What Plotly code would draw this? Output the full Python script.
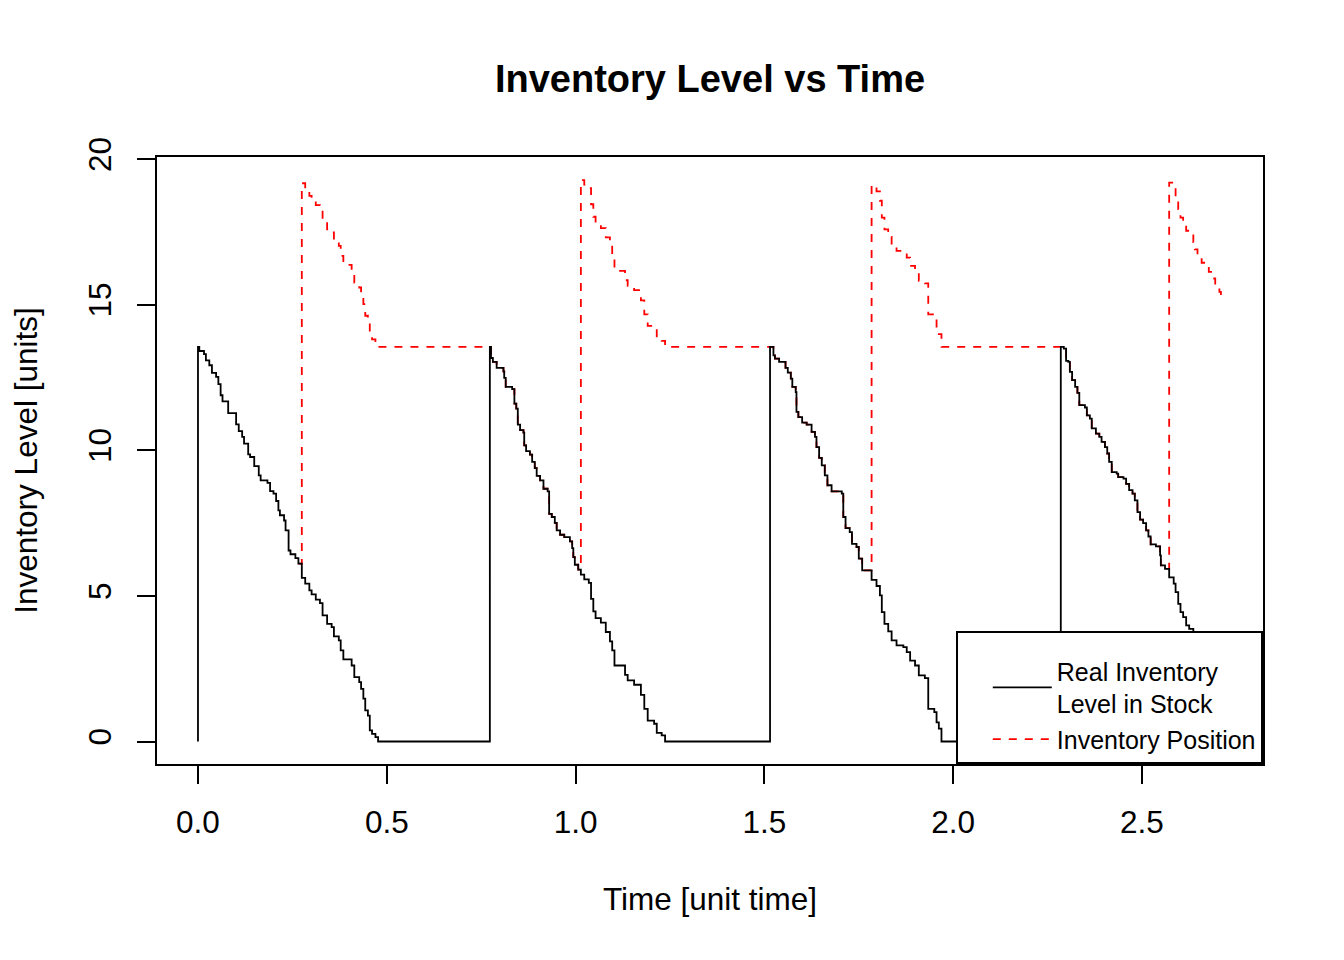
import plotly.graph_objects as go

# ---- data ----
Q = 13.55                      # order quantity (units)
order_times = [0.275, 1.014, 1.784, 2.572]
arrival_times = [0.773, 1.515, 2.285]
end_time = 2.712

c1_t = [0.0035, 0.016, 0.021, 0.030, 0.037, 0.048, 0.054, 0.060, 0.065, 0.080,
        0.101, 0.108, 0.117, 0.122, 0.133, 0.138, 0.149, 0.161, 0.166, 0.184,
        0.191, 0.200, 0.207, 0.213, 0.217, 0.228, 0.232, 0.240, 0.245, 0.258,
        0.266, 0.275, 0.284, 0.295, 0.301, 0.312, 0.323, 0.330, 0.342, 0.354,
        0.360, 0.373, 0.378, 0.385, 0.407, 0.414, 0.427, 0.432, 0.438, 0.443,
        0.450, 0.455, 0.461, 0.470, 0.477]
c1_y = [13.41, 13.30, 13.09, 12.92, 12.66, 12.52, 12.27, 11.89, 11.68, 11.28,
        10.89, 10.66, 10.46, 10.23, 9.86, 9.77, 9.46, 9.14, 8.97, 8.88,
        8.60, 8.51, 8.26, 7.94, 7.77, 7.59, 7.25, 6.56, 6.43, 6.30,
        6.11, 5.62, 5.42, 5.19, 5.05, 4.87, 4.75, 4.33, 4.04, 3.93,
        3.61, 3.47, 3.13, 2.82, 2.61, 2.21, 2.04, 1.81, 1.47, 1.07,
        0.89, 0.38, 0.26, 0.15, 0.0]

c2_t = [0.776, 0.781, 0.791, 0.809, 0.811, 0.815, 0.832, 0.838, 0.843, 0.847,
        0.853, 0.862, 0.864, 0.869, 0.879, 0.885, 0.892, 0.897, 0.906, 0.915,
        0.926, 0.930, 0.937, 0.945, 0.950, 0.959, 0.970, 0.985, 0.991, 0.994,
        0.998, 1.007, 1.014, 1.023, 1.035, 1.041, 1.047, 1.053, 1.067, 1.080,
        1.091, 1.097, 1.103, 1.131, 1.138, 1.155, 1.173, 1.182, 1.191, 1.208,
        1.215, 1.228, 1.237]
c2_y = [13.17, 13.04, 12.83, 12.71, 12.49, 12.18, 12.10, 11.60, 11.43, 10.88,
        10.69, 10.61, 10.17, 9.97, 9.85, 9.60, 9.39, 9.12, 8.97, 8.68,
        8.59, 7.82, 7.71, 7.51, 7.25, 7.10, 7.02, 6.87, 6.64, 6.33,
        6.07, 5.90, 5.73, 5.57, 5.45, 4.90, 4.47, 4.24, 4.08, 3.76,
        3.44, 3.13, 2.61, 2.29, 2.10, 1.95, 1.60, 1.12, 0.72, 0.61,
        0.30, 0.21, 0.0]

c3_t = [1.524, 1.528, 1.539, 1.556, 1.562, 1.570, 1.574, 1.583, 1.585, 1.590,
        1.600, 1.612, 1.625, 1.634, 1.638, 1.645, 1.652, 1.660, 1.667, 1.678,
        1.705, 1.709, 1.715, 1.726, 1.732, 1.744, 1.750, 1.759, 1.784, 1.797,
        1.806, 1.811, 1.818, 1.828, 1.837, 1.850, 1.868, 1.877, 1.886, 1.899,
        1.909, 1.925, 1.934, 1.950, 1.956, 1.962, 1.969]
c3_y = [13.26, 13.15, 13.04, 12.83, 12.67, 12.46, 12.18, 12.00, 11.32, 11.14,
        10.95, 10.88, 10.63, 10.46, 10.11, 9.74, 9.48, 9.14, 8.80, 8.59,
        8.51, 7.71, 7.33, 7.19, 6.79, 6.68, 6.28, 5.88, 5.55, 5.34,
        5.02, 4.44, 4.04, 3.78, 3.47, 3.30, 3.24, 3.07, 2.78, 2.61,
        2.27, 2.18, 1.12, 1.01, 0.66, 0.44, 0.0]

c4_t = [2.293, 2.299, 2.305, 2.309, 2.315, 2.323, 2.329, 2.334, 2.349, 2.354,
        2.362, 2.367, 2.378, 2.387, 2.393, 2.402, 2.408, 2.413, 2.420, 2.433,
        2.437, 2.451, 2.458, 2.466, 2.475, 2.481, 2.488, 2.495, 2.503, 2.511,
        2.517, 2.523, 2.537, 2.548, 2.550, 2.561, 2.572, 2.584, 2.589, 2.596,
        2.602, 2.609, 2.617, 2.625, 2.636, 2.640, 2.647, 2.658, 2.671, 2.677,
        2.686, 2.694, 2.705, 2.709]
c4_y = [13.49, 13.07, 13.04, 12.69, 12.41, 12.18, 11.97, 11.55, 11.47, 11.20,
        11.09, 10.75, 10.57, 10.46, 10.29, 10.11, 9.89, 9.60, 9.25, 9.20,
        9.08, 9.03, 8.85, 8.63, 8.51, 8.28, 7.88, 7.62, 7.50, 7.25,
        7.04, 6.77, 6.70, 6.39, 6.05, 5.93, 5.64, 5.42, 5.13, 4.73,
        4.44, 4.27, 3.99, 3.87, 3.60, 3.35, 3.07, 2.89, 2.75, 2.58,
        2.35, 2.12, 1.89, 1.74]

x_ticks = [0.0, 0.5, 1.0, 1.5, 2.0, 2.5]
x_tick_labels = ["0.0", "0.5", "1.0", "1.5", "2.0", "2.5"]
y_ticks = [0, 5, 10, 15, 20]
y_tick_labels = ["0", "5", "10", "15", "20"]

# ---- build step series ----
stock_t = [0.0, 0.0] + c1_t + [arrival_times[0]] + c2_t + [arrival_times[1]] + c3_t \
    + [arrival_times[2]] + c4_t
stock_y = [0.0, Q] + c1_y + [Q] + c2_y + [Q] + c3_y + [Q] + c4_y
stock_t.append(end_time)
stock_y.append(stock_y[-1])


def outstanding(t):
    for i, ot in enumerate(order_times):
        at = arrival_times[i] if i < len(arrival_times) else float("inf")
        if ot <= t < at:
            return True
    return False


# inventory position is drawn from the event just before the first order
first = max(i for i, t in enumerate(stock_t) if t < order_times[0])
pos_t = stock_t[first:]
pos_y = [y + (Q if outstanding(t) else 0.0)
         for t, y in zip(stock_t[first:], stock_y[first:])]

FONT = "Liberation Sans, Arial, sans-serif"
W, H = 1336, 952   # page has an 8px body margin

fig = go.Figure()
fig.add_trace(go.Scatter(
    x=pos_t, y=pos_y, mode="lines", line_shape="hv",
    line=dict(color="#FF0000", width=1.8, dash="8px,8px"),
    name="Inventory Position", legendrank=2, hoverinfo="skip"))
fig.add_trace(go.Scatter(
    x=stock_t, y=stock_y, mode="lines", line_shape="hv",
    line=dict(color="#000000", width=1.8),
    name="Real Inventory<br>Level in Stock", legendrank=1, hoverinfo="skip"))

fig.update_layout(
    width=W, height=H,
    margin=dict(l=149, r=81, t=149, b=196, autoexpand=False),
    paper_bgcolor="white", plot_bgcolor="white",
    font=dict(family=FONT, color="black", size=31.5),
    title=dict(text="Inventory Level vs Time", x=702 / W, xanchor="center",
               y=1 - 71 / H, yanchor="middle", yref="container",
               font=dict(family=FONT, size=38, color="black", weight="bold")),
    showlegend=True,
    legend=dict(x=1, y=0, xanchor="right", yanchor="bottom",
                bgcolor="white", bordercolor="black", borderwidth=1.8,
                font=dict(family=FONT, size=25, color="black"),
                itemwidth=59, indentation=30, tracegroupgap=4,
                title=dict(text=" ", font=dict(size=12))),
)
fig.update_xaxes(
    range=[-0.1085, 2.8205], tickvals=x_ticks, ticktext=x_tick_labels,
    showgrid=False, zeroline=False, showline=True, mirror=True,
    linecolor="black", linewidth=1.8, ticks="outside", ticklen=18,
    tickwidth=1.8, tickcolor="black", ticklabelstandoff=11,
    tickfont=dict(family=FONT, size=31.5, color="black"),
    title=dict(text="Time [unit time]", standoff=49,
               font=dict(family=FONT, size=31.5, color="black")),
    automargin=False)
fig.update_yaxes(
    range=[-0.772, 20.072], tickvals=y_ticks, ticktext=y_tick_labels,
    tickangle=-90,
    showgrid=False, zeroline=False, showline=True, mirror=True,
    linecolor="black", linewidth=1.8, ticks="outside", ticklen=18,
    tickwidth=1.8, tickcolor="black", ticklabelstandoff=14,
    tickfont=dict(family=FONT, size=31.5, color="black"),
    title=dict(text="Inventory Level [units]", standoff=37,
               font=dict(family=FONT, size=31.5, color="black")),
    automargin=False)

fig.write_html("out.html")
